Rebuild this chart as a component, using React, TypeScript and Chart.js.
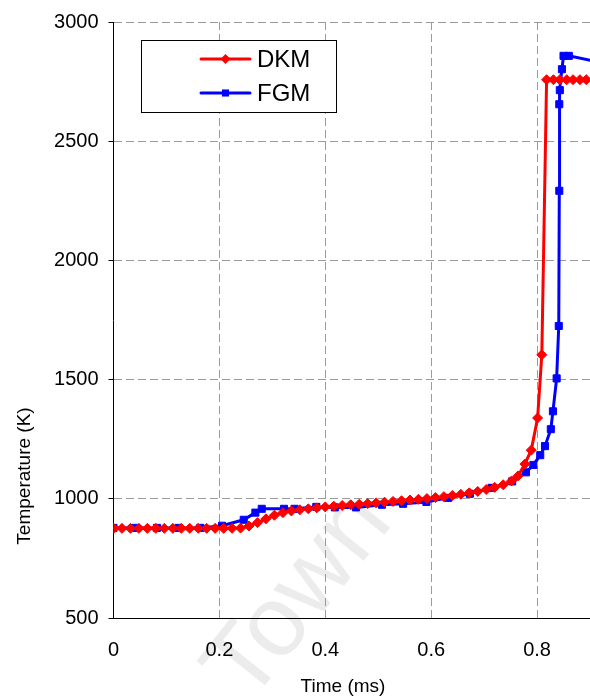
import { useEffect, useRef } from "react";
import { Chart, registerables } from "chart.js";

Chart.register(...registerables);

// Temperature history, DKM mechanism (time in ms, temperature in K)
const dkmTime = [
  0, 0.016, 0.032, 0.048, 0.064, 0.08, 0.096, 0.112, 0.128, 0.144, 0.16, 0.176,
  0.192, 0.208, 0.224, 0.24, 0.256, 0.272, 0.288, 0.304, 0.32, 0.336, 0.352,
  0.368, 0.384, 0.4, 0.416, 0.432, 0.448, 0.464, 0.48, 0.496, 0.512, 0.528,
  0.544, 0.56, 0.576, 0.592, 0.608, 0.624, 0.64, 0.656, 0.672, 0.688, 0.704,
  0.72, 0.736, 0.752, 0.764, 0.777, 0.789, 0.801, 0.809, 0.818, 0.831, 0.843,
  0.856, 0.868, 0.881, 0.893, 0.906,
];
const dkmTemp = [
  876, 876, 876, 876, 876, 876, 876, 876, 876, 876, 876, 876,
  876, 876, 876, 877, 886, 900, 916, 931, 942, 949, 954,
  958, 962, 966, 969, 972, 975, 977, 980, 983, 986, 989,
  992, 995, 998, 1001, 1005, 1009, 1014, 1019, 1025, 1031, 1039,
  1048, 1059, 1075, 1096, 1146, 1204, 1339, 1604, 2758, 2758, 2758,
  2758, 2758, 2758, 2758, 2758,
];

// Temperature history, FGM model
const fgmTime = [
  0, 0.041, 0.082, 0.123, 0.164, 0.205, 0.246, 0.268, 0.28, 0.322, 0.342,
  0.383, 0.418, 0.458, 0.507, 0.547, 0.591, 0.632, 0.673, 0.714, 0.753,
  0.779, 0.793, 0.806, 0.815, 0.826, 0.83, 0.837, 0.841, 0.842, 0.842,
  0.843, 0.847, 0.85, 0.86, 0.92,
];
const fgmTemp = [
  878, 878, 878, 878, 878, 887, 912, 942, 958, 958, 958,
  966, 964, 964, 975, 979, 987, 1004, 1021, 1046, 1073,
  1111, 1142, 1183, 1221, 1292, 1367, 1505, 1725, 2292, 2655,
  2714, 2802, 2858, 2858, 2830,
];

const seriesNames = ["DKM", "FGM"];
const seriesColors = ["#ff0000", "#0000ff"];
const xTicks = [0, 0.2, 0.4, 0.6, 0.8];
const yTicks = [500, 1000, 1500, 2000, 2500, 3000];
const xTitle = "Time (ms)";
const yTitle = "Temperature (K)";
const watermark = "Town";

const FONT = "Arial, 'Liberation Sans', sans-serif";

const toPoints = (xs: number[], ys: number[]) => xs.map((x, i) => ({ x, y: ys[i] }));

// legend marker: diamond for rectRot, square for rect
function drawMarker(ctx: CanvasRenderingContext2D, style: string, r: number, x: number, y: number, color: string) {
  ctx.fillStyle = color;
  ctx.beginPath();
  if (style === "rectRot") {
    ctx.moveTo(x, y - r);
    ctx.lineTo(x + r, y);
    ctx.lineTo(x, y + r);
    ctx.lineTo(x - r, y);
    ctx.closePath();
  } else {
    const s = r * Math.SQRT1_2;
    ctx.rect(x - s, y - s, 2 * s, 2 * s);
  }
  ctx.fill();
}

export default function App() {
  const canvasRef = useRef<HTMLCanvasElement | null>(null);

  useEffect(() => {
    const canvas = canvasRef.current;
    if (!canvas) return;

    const backdrop = {
      id: "backdrop",
      beforeDraw(chart: any) {
        const ctx = chart.ctx;
        ctx.save();
        ctx.translate(300, 597);
        ctx.rotate(-0.9);
        ctx.fillStyle = "#ececec";
        ctx.font = `100px ${FONT}`;
        ctx.textAlign = "center";
        ctx.textBaseline = "middle";
        ctx.fillText(watermark, 0, 0);
        ctx.restore();
      },
    };

    const overlay = {
      id: "overlay",
      afterDraw(chart: any) {
        const ctx = chart.ctx;
        ctx.save();
        // axis titles
        ctx.fillStyle = "#000";
        ctx.font = `19px ${FONT}`;
        ctx.textAlign = "center";
        ctx.textBaseline = "middle";
        ctx.fillText(xTitle, 343, 687);
        ctx.save();
        ctx.translate(25, 476);
        ctx.rotate(-Math.PI / 2);
        ctx.fillText(yTitle, 0, 0);
        ctx.restore();

        // legend box
        const bx = 141.5, by = 40.5, bw = 195, bh = 72;
        ctx.fillStyle = "#fff";
        ctx.fillRect(bx, by, bw, bh);
        ctx.strokeStyle = "#000";
        ctx.lineWidth = 1;
        ctx.strokeRect(bx, by, bw, bh);
        const rows = [59, 93];
        chart.data.datasets.forEach((ds: any, i: number) => {
          const y = rows[i];
          ctx.strokeStyle = ds.borderColor;
          ctx.lineWidth = 3;
          ctx.lineCap = "round";
          ctx.beginPath();
          ctx.moveTo(201, y);
          ctx.lineTo(250, y);
          ctx.stroke();
          drawMarker(ctx, ds.pointStyle, ds.pointRadius, 225.5, y, ds.borderColor);
          ctx.fillStyle = "#000";
          ctx.font = `24px ${FONT}`;
          ctx.textAlign = "left";
          ctx.textBaseline = "middle";
          ctx.fillText(ds.label, 257, y + 1);
        });
        ctx.restore();
      },
    };

    const chart = new Chart(canvas, {
      type: "line",
      data: {
        datasets: [
          {
            label: seriesNames[0],
            data: toPoints(dkmTime, dkmTemp),
            borderColor: seriesColors[0],
            backgroundColor: seriesColors[0],
            pointBackgroundColor: seriesColors[0],
            pointBorderColor: seriesColors[0],
            pointStyle: "rectRot",
            pointRadius: 5,
            pointBorderWidth: 1,
            borderWidth: 3,
            tension: 0,
          },
          {
            label: seriesNames[1],
            data: toPoints(fgmTime, fgmTemp),
            borderColor: seriesColors[1],
            backgroundColor: seriesColors[1],
            pointBackgroundColor: seriesColors[1],
            pointBorderColor: seriesColors[1],
            pointStyle: "rect",
            pointRadius: 5,
            pointBorderWidth: 1,
            borderWidth: 3,
            tension: 0,
          },
        ],
      },
      options: {
        responsive: false,
        animation: false,
        devicePixelRatio: 1,
        layout: { autoPadding: false, padding: { top: 18, right: 0, bottom: 0, left: 0 } },
        plugins: {
          legend: { display: false },
          tooltip: { enabled: false },
        },
        scales: {
          x: {
            type: "linear",
            min: 0,
            max: 0.9,
            afterBuildTicks: (scale: any) => {
              scale.ticks = xTicks.map((v) => ({ value: v }));
            },
            afterFit: (scale: any) => {
              scale.height = 82;
            },
            ticks: {
              color: "#000",
              font: { family: FONT, size: 20 },
              padding: 20,
              maxRotation: 0,
              callback: (v: any) => String(v),
            },
            grid: {
              color: "#9a9a9a",
              lineWidth: 1,
              drawTicks: false,
            },
            border: { color: "#000", width: 1, dash: [8, 4] },
          },
          y: {
            type: "linear",
            min: 500,
            max: 3000,
            afterBuildTicks: (scale: any) => {
              scale.ticks = yTicks.map((v) => ({ value: v }));
            },
            afterFit: (scale: any) => {
              scale.width = 113.5;
            },
            ticks: {
              color: "#000",
              font: { family: FONT, size: 20 },
              padding: 10,
              callback: (v: any) => String(v),
            },
            grid: {
              color: "#9a9a9a",
              lineWidth: 1,
              drawTicks: true,
              tickLength: 5,
              tickColor: "#000",
              tickBorderDash: [],
            },
            border: { color: "#000", width: 1, dash: [8, 4] },
          },
        },
      },
      plugins: [backdrop, overlay],
    } as any);

    return () => chart.destroy();
  }, []);

  return (
    <div style={{ position: "fixed", left: 0, top: 0, width: 590, height: 700, background: "#fff" }}>
      <canvas ref={canvasRef} width={590} height={700} />
    </div>
  );
}
